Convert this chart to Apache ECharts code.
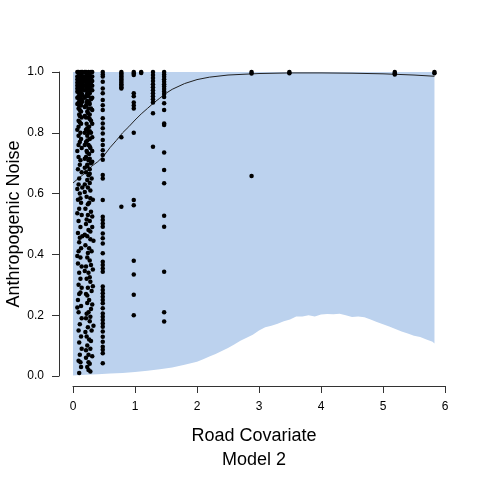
<!DOCTYPE html>
<html>
<head>
<meta charset="utf-8">
<script src="https://cdn.jsdelivr.net/npm/echarts@6/dist/echarts.min.js"></script>
<style>html,body{margin:0;padding:0;background:#fff;}#c{width:480px;height:480px;}</style>
</head>
<body>
<div id="c"></div>
<script>
// ---- data ----
var xTicks = [0, 1, 2, 3, 4, 5, 6];
var yTicks = [0.0, 0.2, 0.4, 0.6, 0.8, 1.0];

// fitted curve
var fitX = [0, 0.1, 0.2, 0.3, 0.4, 0.5, 0.6, 0.7, 0.8, 0.9, 1.0, 1.1, 1.2, 1.3, 1.4, 1.5, 1.6, 1.8, 2.0, 2.2, 2.5, 3.0, 3.5, 4.0, 4.5, 5.0, 5.5, 5.83];
var fitY = [0.635, 0.652, 0.668, 0.69, 0.705, 0.725, 0.752, 0.775, 0.80, 0.82, 0.842, 0.862, 0.88, 0.898, 0.914, 0.93, 0.943, 0.962, 0.975, 0.983, 0.99, 0.995, 0.997, 0.997, 0.996, 0.994, 0.99, 0.986];

// credible band
var bandX = [0, 0.2, 0.4, 0.6, 0.8, 1.0, 1.2, 1.4, 1.6, 1.8, 2.0, 2.1, 2.2, 2.3, 2.4, 2.5, 2.6, 2.7, 2.8, 2.9, 3.0, 3.1, 3.2, 3.3, 3.4, 3.5, 3.6, 3.7, 3.8, 3.9, 4.0, 4.1, 4.2, 4.3, 4.4, 4.5, 4.6, 4.7, 4.8, 4.9, 5.0, 5.1, 5.2, 5.3, 5.4, 5.5, 5.6, 5.7, 5.8, 5.83];
var bandLow = [0.002, 0.004, 0.006, 0.008, 0.010, 0.013, 0.017, 0.022, 0.028, 0.037, 0.047, 0.055, 0.064, 0.072, 0.082, 0.092, 0.104, 0.116, 0.126, 0.136, 0.150, 0.160, 0.165, 0.172, 0.180, 0.186, 0.196, 0.196, 0.200, 0.196, 0.202, 0.204, 0.203, 0.205, 0.200, 0.194, 0.196, 0.193, 0.186, 0.178, 0.170, 0.163, 0.155, 0.146, 0.140, 0.132, 0.128, 0.120, 0.113, 0.107];
var bandHigh = [1, 1, 1, 1, 1, 1, 1, 1, 1, 1, 1, 1, 1, 1, 1, 1, 1, 1, 1, 1, 1, 1, 1, 1, 1, 1, 1, 1, 1, 1, 1, 1, 1, 1, 1, 1, 1, 1, 1, 1, 1, 1, 1, 1, 1, 1, 1, 1, 1, 1];

// observations, left cluster
var leftA = [[0.09,1.00],[0.13,1.00],[0.10,0.99],[0.14,0.99],[0.09,0.98],[0.13,0.98],[0.10,0.97],[0.13,0.97],[0.09,0.96],[0.14,0.96],[0.10,0.95],[0.13,0.95],[0.09,0.94],[0.13,0.94],[0.10,0.93],[0.14,0.93],[0.09,0.92],[0.13,0.92],[0.10,0.91],[0.13,0.91],[0.09,0.90],[0.14,0.90],[0.10,0.89],[0.13,0.89],[0.09,0.88],[0.13,0.87],[0.10,0.86],[0.14,0.85],[0.09,0.84],[0.13,0.83],[0.09,0.82],[0.12,0.80],[0.09,0.79],[0.13,0.78],[0.09,0.76],[0.14,0.75],[0.09,0.72],[0.12,0.71],[0.08,0.68],[0.14,0.67],[0.10,0.65],[0.09,0.63],[0.15,0.62],[0.11,0.60],[0.08,0.58],[0.13,0.57],[0.10,0.55],[0.14,0.53],[0.09,0.51],[0.12,0.49],[0.08,0.47],[0.15,0.46],[0.10,0.44],[0.13,0.42],[0.09,0.41],[0.12,0.39],[0.08,0.37],[0.14,0.36],[0.10,0.34],[0.12,0.32],[0.09,0.30],[0.14,0.29],[0.10,0.27],[0.08,0.25],[0.13,0.23],[0.09,0.21],[0.14,0.19],[0.11,0.17],[0.09,0.15],[0.13,0.13],[0.10,0.11],[0.14,0.09],[0.11,0.07],[0.09,0.05],[0.13,0.03],[0.10,0.01]];
var leftA2 = [[0.07,1.0],[0.15,1.0],[0.07,0.985],[0.15,0.985],[0.07,0.975],[0.15,0.975],[0.07,0.965],[0.15,0.965],[0.07,0.955],[0.15,0.955],[0.07,0.945],[0.15,0.945],[0.07,0.935],[0.15,0.925],[0.07,0.915],[0.15,0.905],[0.07,0.895],[0.11,0.875],[0.11,0.855],[0.11,0.835],[0.07,0.81],[0.11,0.77],[0.07,0.74],[0.11,0.695],[0.07,0.615],[0.12,0.585],[0.07,0.535],[0.11,0.455],[0.07,0.395],[0.12,0.275],[0.07,0.225],[0.12,0.045]];
var leftB = [[0.21,1.00],[0.25,1.00],[0.29,1.00],[0.22,0.99],[0.27,0.99],[0.21,0.98],[0.25,0.98],[0.29,0.98],[0.23,0.97],[0.27,0.97],[0.21,0.96],[0.25,0.96],[0.29,0.96],[0.22,0.95],[0.27,0.95],[0.21,0.94],[0.25,0.94],[0.29,0.94],[0.23,0.93],[0.27,0.93],[0.21,0.92],[0.25,0.92],[0.29,0.91],[0.22,0.90],[0.26,0.90],[0.21,0.89],[0.25,0.88],[0.29,0.88],[0.23,0.87],[0.27,0.86],[0.21,0.85],[0.25,0.85],[0.29,0.84],[0.22,0.83],[0.26,0.82],[0.21,0.81],[0.25,0.80],[0.29,0.80],[0.23,0.79],[0.27,0.78],[0.21,0.77],[0.25,0.76],[0.28,0.75],[0.22,0.74],[0.26,0.73],[0.21,0.72],[0.25,0.71],[0.29,0.70],[0.23,0.69],[0.27,0.68],[0.21,0.67],[0.25,0.66],[0.30,0.65],[0.19,0.63],[0.24,0.62],[0.28,0.61],[0.22,0.59],[0.32,0.58],[0.26,0.57],[0.20,0.55],[0.29,0.54],[0.24,0.53],[0.27,0.51],[0.21,0.50],[0.31,0.49],[0.25,0.48],[0.23,0.46],[0.28,0.45],[0.20,0.43],[0.26,0.42],[0.30,0.41],[0.23,0.39],[0.27,0.38],[0.21,0.36],[0.32,0.35],[0.25,0.34],[0.22,0.32],[0.28,0.31],[0.24,0.29],[0.30,0.28],[0.21,0.27],[0.26,0.25],[0.23,0.24],[0.29,0.22],[0.25,0.21],[0.21,0.19],[0.27,0.18],[0.24,0.16],[0.30,0.15],[0.22,0.13],[0.26,0.12],[0.23,0.10],[0.28,0.09],[0.25,0.07],[0.21,0.06],[0.27,0.04],[0.23,0.03],[0.25,0.02]];
var leftB2 = [[0.19,1.0],[0.31,1.0],[0.19,0.985],[0.31,0.985],[0.19,0.97],[0.31,0.97],[0.19,0.955],[0.31,0.955],[0.19,0.94],[0.31,0.94],[0.23,0.925],[0.19,0.915],[0.31,0.915],[0.23,0.905],[0.27,0.895],[0.19,0.885],[0.31,0.875],[0.24,0.865],[0.19,0.855],[0.27,0.845],[0.31,0.83],[0.23,0.815],[0.19,0.80],[0.27,0.805],[0.31,0.785],[0.23,0.775],[0.19,0.76],[0.27,0.755],[0.31,0.74],[0.23,0.735],[0.19,0.715],[0.27,0.715],[0.31,0.705],[0.23,0.695],[0.19,0.685],[0.27,0.665],[0.23,0.645],[0.27,0.635],[0.19,0.605],[0.28,0.585],[0.24,0.565],[0.31,0.525],[0.22,0.515],[0.28,0.475],[0.19,0.465],[0.33,0.445],[0.24,0.405],[0.29,0.365],[0.19,0.345],[0.27,0.325],[0.32,0.295],[0.23,0.265],[0.31,0.235],[0.22,0.205],[0.28,0.195],[0.33,0.165],[0.20,0.145],[0.29,0.115],[0.21,0.085],[0.31,0.065],[0.25,0.045],[0.28,0.015]];

// observations, other columns (x position and y values)
var colX = [0.48, 0.78, 0.98, 1.10, 1.29, 1.47, 2.88, 3.49, 5.19, 5.83];
var colY = [
  [1.0,0.992,0.985,0.968,0.946,0.930,0.908,0.891,0.875,0.848,0.831,0.815,0.798,0.776,0.760,0.743,0.727,0.711,0.661,0.650,0.579,0.524,0.513,0.502,0.491,0.469,0.453,0.436,0.404,0.376,0.365,0.354,0.343,0.294,0.283,0.272,0.261,0.250,0.239,0.223,0.206,0.195,0.184,0.173,0.162,0.146,0.129,0.113,0.096,0.086,0.075,0.042],
  [1.0,0.995,0.99,0.985,0.98,0.975,0.97,0.965,0.96,0.955,0.95,0.946,0.785,0.557],
  [1.0,0.995,0.99,0.93,0.92,0.90,0.89,0.88,0.80,0.579,0.562,0.379,0.334,0.267,0.20],
  [1.0,0.997],
  [1.0,0.99,0.98,0.97,0.96,0.95,0.94,0.93,0.92,0.91,0.90,0.864,0.754],
  [1.0,0.992,0.984,0.976,0.968,0.96,0.952,0.944,0.936,0.928,0.918,0.897,0.875,0.831,0.826,0.735,0.678,0.634,0.527,0.491,0.343,0.21,0.179],
  [1.0,0.995,0.658],
  [1.0,0.996],
  [1.0,0.996,0.992],
  [1.0,0.996]
];

// ---- build ----
function zip(xs, ys){ var o=[]; for (var i=0;i<xs.length;i++) o.push([xs[i], ys[i]]); return o; }
var points = leftA.concat(leftA2, leftB, leftB2);
for (var c=0;c<colX.length;c++){ for (var k=0;k<colY[c].length;k++) points.push([colX[c], colY[c][k]]); }

var FONT = "'Liberation Sans', Arial, Helvetica, sans-serif";
var chart = echarts.init(document.getElementById('c'), null, {renderer:'canvas'});
chart.setOption({
  animation: false,
  backgroundColor: '#ffffff',
  grid: {left: 73, right: 35, top: 72, bottom: 104, containLabel: false, outerBoundsMode: 'none'},
  xAxis: {
    type: 'value', min: xTicks[0], max: xTicks[xTicks.length-1], interval: 1,
    offset: 10,
    axisLine: {show: true, onZero: false, lineStyle: {color: '#333', width: 1}},
    axisTick: {show: true, length: 7, lineStyle: {color: '#333'}},
    axisLabel: {color: '#000', fontSize: 12, fontFamily: FONT, margin: 15},
    splitLine: {show: false},
    name: 'Road Covariate', nameLocation: 'middle', nameGap: 41, nameMoveOverlap: false,
    nameTextStyle: {color: '#000', fontSize: 18, fontFamily: FONT, padding: [0, 10, 0, 0]}
  },
  yAxis: {
    type: 'value', min: yTicks[0], max: yTicks[yTicks.length-1], interval: 0.2,
    offset: 14,
    axisLine: {show: true, onZero: false, lineStyle: {color: '#333', width: 1}},
    axisTick: {show: true, length: 7, lineStyle: {color: '#333'}},
    axisLabel: {color: '#000', fontSize: 12, fontFamily: FONT, margin: 15, formatter: function(v){ return v.toFixed(1); }},
    splitLine: {show: false},
    name: 'Anthropogenic Noise', nameLocation: 'middle', nameGap: 36, nameRotate: 90, nameMoveOverlap: false,
    nameTextStyle: {color: '#000', fontSize: 18, fontFamily: FONT}
  },
  graphic: [{
    type: 'text', x: 254, y: 460,
    style: {text: 'Model 2', fill: '#000', font: '18px ' + FONT, textAlign: 'center', textVerticalAlign: 'middle'}
  }],
  series: [
    {
      type: 'custom', z: 1, silent: true, clip: false,
      data: [[bandX[0], bandLow[0]]],
      renderItem: function (params, api) {
        var pts = [];
        for (var i = 0; i < bandX.length; i++) pts.push(api.coord([bandX[i], bandHigh[i]]));
        for (var j = bandX.length - 1; j >= 0; j--) pts.push(api.coord([bandX[j], bandLow[j]]));
        return {type: 'polygon', shape: {points: pts}, style: {fill: '#BCD2EE', stroke: null}};
      }
    },
    {type: 'line', z: 3, data: zip(fitX, fitY), symbol: 'none', lineStyle: {color: '#222', width: 1}, clip: false},
    {type: 'scatter', z: 5, data: points, symbol: 'circle', symbolSize: 4.5, itemStyle: {color: '#000', opacity: 1}, clip: false}
  ]
});
</script>
</body>
</html>
